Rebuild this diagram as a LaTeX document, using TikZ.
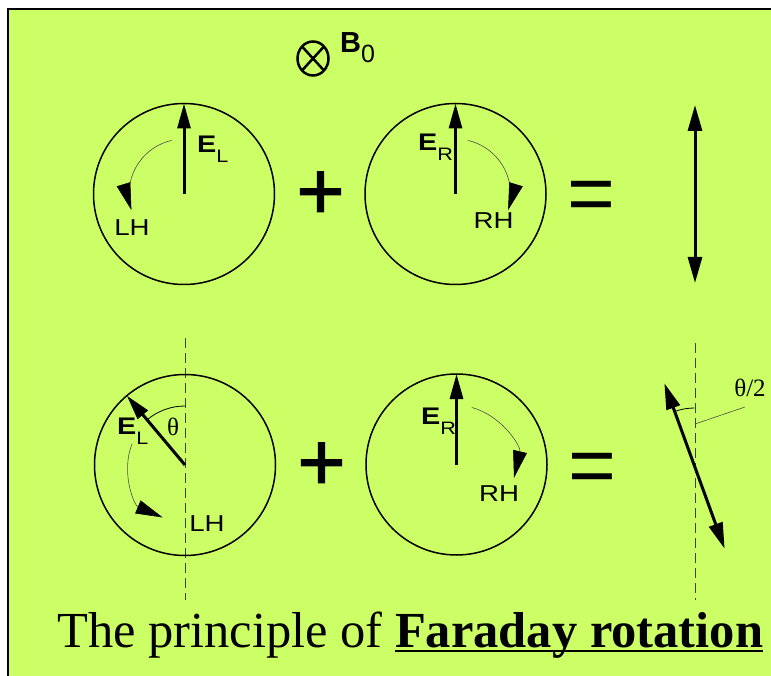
\documentclass[tikz,border=0pt]{standalone}
\usepackage{fontspec}
\setmainfont{Liberation Serif}
\newfontfamily\lblfont[FakeStretch=1.2]{Liberation Sans}
\newfontfamily\opfont{Liberation Sans}
\newfontfamily\plusfont[FakeBold=1.5]{Liberation Sans}
\usetikzlibrary{arrows.meta,positioning,calc}
\definecolor{bggreen}{HTML}{CCFF66}
\newcommand\field[1]{{\bfseries\fontsize{24}{24}\selectfont E}\raisebox{-10pt}{\fontsize{18}{18}\selectfont #1}}
\newcommand\thickul[1]{\setbox0\hbox{#1}\rlap{\rule[-5pt]{\wd0}{2pt}}\box0}
\tikzset{
  ring/.style={circle, draw=black, line width=1.5pt, minimum size=181pt, inner sep=0pt, outer sep=0pt},
  vec/.style={-{Triangle[length=25pt,width=13pt]}, line width=3pt},
  pol/.style={{Triangle[length=26pt,width=14pt]}-{Triangle[length=26pt,width=14pt]}, line width=3pt},
  turn/.style={-{Triangle[length=27pt 0 0,width=14pt 0 0,color=black]}, line width=0.6pt, draw=black!70},
  axisline/.style={dash pattern=on 10pt off 5pt, line width=1pt, draw=black!75},
  lbl/.style={font=\lblfont\fontsize{23}{23}\selectfont, inner sep=0pt},
  elbl/.style={font=\lblfont, inner sep=0pt, anchor=base west},
  op/.style={font=\opfont\fontsize{82}{82}\selectfont, inner sep=0pt, anchor=base},
  plus/.style={op, font=\plusfont\fontsize{82}{82}\selectfont},
  greek/.style={font=\fontsize{25}{25}\selectfont, inner sep=0pt}
}
\begin{document}
\begin{tikzpicture}[x=1pt, y=1pt]
  \useasboundingbox (0,0) rectangle (771,-676);
  \fill[white] (0,0) rectangle (771,-676);
  \filldraw[fill=bggreen, draw=black, line width=2pt] (8,-9) rectangle (790,-700);

  % field direction
  \coordinate (b0) at (313,-58.5);
  \draw[line width=2.5pt] (b0) ellipse [x radius=15.5, y radius=17];
  \draw[line width=2.5pt] ($(b0)+(-11,12)$) -- ($(b0)+(11,-12)$);
  \draw[line width=2.5pt] ($(b0)+(11,12)$) -- ($(b0)+(-11,-12)$);
  \node[anchor=base west, inner sep=0pt, font=\opfont] (bl) at (340,-53)
    {{\bfseries\fontsize{29}{29}\selectfont B}\raisebox{-10pt}{\fontsize{25}{25}\selectfont 0}};

  % upper row
  \node[ring] (c1) at (184,-194) {};
  \node[ring] (c2) at (455.5,-194) {};
  \draw[vec] (c1.center) -- (c1.north);
  \draw[vec] (c2.center) -- (c2.north);
  \draw[turn] ([shift={(103:55)}]c1.center) arc[start angle=103, end angle=197, radius=55];
  \draw[turn] ([shift={(77:55)}]c2.center) arc[start angle=77, end angle=-17, radius=55];
  \node[elbl] (el1) at (197,-153) {\field{L}};
  \node[elbl] (er1) at (418,-151) {\field{R}};
  \node[lbl] (lh1) at (132,-227.5) {LH};
  \node[lbl] (rh1) at (493.5,-221) {RH};
  \node[plus] (pl1) at (320.5,-219) {+};
  \node[op] (eq1) at (591.5,-222) {=};
  \coordinate (pt1) at (695,-105);
  \coordinate (pt2) at (695,-283);
  \draw[pol] (pt1) -- (pt2);

  % lower row
  \coordinate (ax1a) at (185,-338);
  \coordinate (ax1b) at (185,-600);
  \coordinate (ax2a) at (695,-343);
  \coordinate (ax2b) at (695,-600);
  \draw[axisline] (ax1a) -- (ax1b);
  \draw[axisline] (ax2a) -- (ax2b);
  \node[ring] (c3) at (185,-465) {};
  \node[ring] (c4) at (456.5,-464.5) {};
  \draw[vec] (c3.center) -- (c3.130);
  \draw[vec] (c4.center) -- (c4.north);
  \draw[line width=0.8pt] ([shift={(90:59)}]c3.center) arc[start angle=90, end angle=130, radius=59];
  \draw[turn] ([shift={(158:57)}]c3.center) arc[start angle=158, end angle=247, radius=57];
  \draw[turn] ([shift={(75:59)}]c4.center) arc[start angle=75, end angle=-13, radius=59];
  \node[greek] (th1) at (173,-427) {θ};
  \node[elbl] (el2) at (117,-434) {\field{L}};
  \node[elbl] (er2) at (421,-424) {\field{R}};
  \node[lbl] (lh2) at (207,-523.5) {LH};
  \node[lbl] (rh2) at (499,-494) {RH};
  \node[plus] (pl2) at (321.5,-490) {+};
  \node[op] (eq2) at (592.5,-493) {=};
  \coordinate (rot) at (694.5,-466);
  \draw[pol] ($(rot)+(110:88)$) -- ($(rot)+(-70:88)$);
  \draw[line width=0.8pt] ([shift={(90:58)}]rot) arc[start angle=90, end angle=110, radius=58];
  \coordinate (ld1) at (695,-424);
  \coordinate (ld2) at (745,-407);
  \draw[line width=0.6pt, black!70] (ld1) -- (ld2);
  \node[greek] (th2) at (750,-388) {θ/2};

  % caption
  \node[anchor=base west, inner sep=0pt, font=\fontsize{50.5}{50.5}\selectfont] (ttl) at (57,-647)
    {The principle of \textbf{\thickul{Faraday rotation}}};
\end{tikzpicture}
\end{document}
